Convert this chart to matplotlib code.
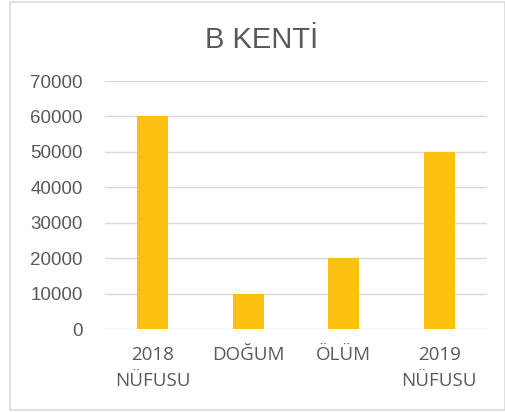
import matplotlib
matplotlib.use("Agg")
import matplotlib.pyplot as plt
from matplotlib.patches import Rectangle

# veriler
kategoriler = ["2018\nNÜFUSU", "DOĞUM", "ÖLÜM", "2019\nNÜFUSU"]
degerler = [60000, 10000, 20000, 50000]
y_ticks = [0, 10000, 20000, 30000, 40000, 50000, 60000, 70000]

GRI = "#595959"
SARI = "#FCC010"

fig = plt.figure(figsize=(5.05, 4.12), dpi=100)
W, H = 505, 412

# dış çerçeve
fig.patches.append(Rectangle((10 / W, 2 / H), (W - 10.5) / W, (408) / H,
                             transform=fig.transFigure, fill=False,
                             edgecolor="#d9d9d9", lw=1.2))

ax = fig.add_axes([105 / W, (H - 329) / H, (487 - 105) / W, (329 - 81) / H])
x = range(len(kategoriler))
ax.bar(x, degerler, width=0.32, color=SARI, zorder=3)

ax.set_xlim(-0.5, len(kategoriler) - 0.5)
ax.set_ylim(0, 70000)
ax.set_yticks(y_ticks)
ax.set_yticklabels([str(v) for v in y_ticks], fontsize=13.5, color=GRI,
                   family="Liberation Sans")
ax.set_xticks(list(x))
ax.set_xticklabels(kategoriler, fontsize=13.5, color=GRI, family="Open Sans",
                   linespacing=1.6)
ax.tick_params(axis="both", length=0)
ax.tick_params(axis="y", pad=16)
ax.tick_params(axis="x", pad=12)

ax.grid(axis="y", color="#d9d9d9", lw=1, zorder=0)
for s in ax.spines.values():
    s.set_visible(False)

fig.text(262 / W, 1 - 40 / H, "B KENTİ", ha="center", va="center",
         fontsize=21, color=GRI, family="Liberation Sans")

fig.savefig("out.png", dpi=100)
